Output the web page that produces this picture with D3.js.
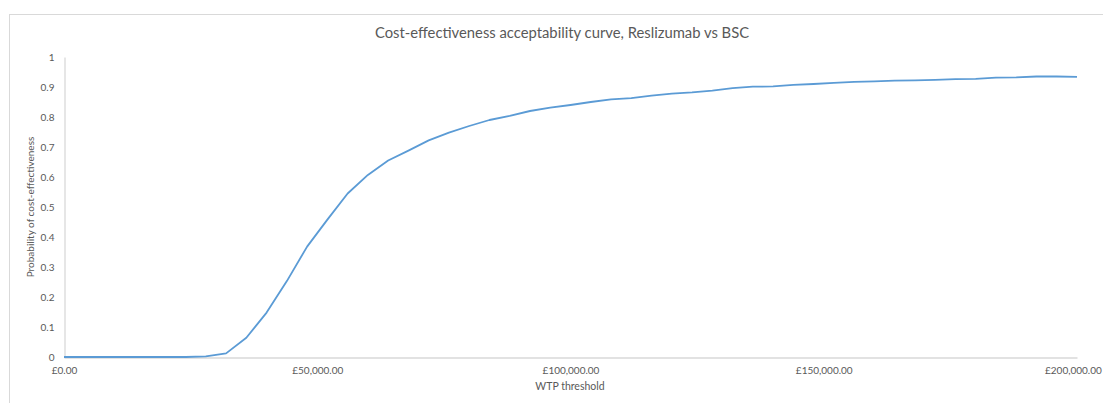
<!DOCTYPE html>
<html>
<head>
<meta charset="utf-8">
<script src="https://cdn.jsdelivr.net/npm/d3@7"></script>
<style>
  html, body { margin: 0; padding: 0; background: #fff; }
  svg { display: block; }
  text { font-family: Lato, "Open Sans", sans-serif; fill: #595959; }
</style>
</head>
<body>
<svg id="chart" width="1103" height="403"></svg>
<script>
// Willingness-to-pay thresholds (£) and probability Reslizumab is cost-effective vs BSC
const wtp = [
  0, 4000, 8000, 12000, 16000, 20000, 24000, 28000, 32000, 36000,
  40000, 44000, 48000, 52000, 56000, 60000, 64000, 68000, 72000, 76000,
  80000, 84000, 88000, 92000, 96000, 100000, 104000, 108000, 112000, 116000,
  120000, 124000, 128000, 132000, 136000, 140000, 144000, 148000, 152000, 156000,
  160000, 164000, 168000, 172000, 176000, 180000, 184000, 188000, 192000, 196000,
  200000
];
const probability = [
  0, 0, 0, 0, 0, 0, 0, 0.002, 0.012, 0.064,
  0.148, 0.253, 0.368, 0.458, 0.545, 0.607, 0.655, 0.688, 0.722, 0.748,
  0.77, 0.79, 0.804, 0.82, 0.831, 0.84, 0.85, 0.859, 0.863, 0.871,
  0.878, 0.882, 0.888, 0.896, 0.901, 0.902, 0.907, 0.91, 0.914, 0.917,
  0.919, 0.921, 0.922, 0.924, 0.926, 0.927, 0.931, 0.932, 0.935, 0.935,
  0.934
];
const xTicks = [0, 50000, 100000, 150000, 200000];
const yTicks = [0, 0.1, 0.2, 0.3, 0.4, 0.5, 0.6, 0.7, 0.8, 0.9, 1];

const titleText = "Cost-effectiveness acceptability curve, Reslizumab vs BSC";
const xTitle = "WTP threshold";
const yTitle = "Probability of cost-effectiveness";

const svg = d3.select("#chart");
const W = +svg.attr("width");

// chart area frame
svg.append("rect")
  .attr("x", 9.5).attr("y", 14.5)
  .attr("width", 1110).attr("height", 420)
  .attr("fill", "#fff")
  .attr("stroke", "#d9d9d9")
  .attr("stroke-width", 1);

const plot = { left: 64, right: 1077, top: 57, bottom: 357 };

const x = d3.scaleLinear().domain([0, 200000]).range([plot.left, plot.right]);
const y = d3.scaleLinear().domain([0, 1]).range([plot.bottom, plot.top]);

const fmtMoney = v => "£" + d3.format(",.2f")(v);
const fmtProb = v => v === 0 ? "0" : v === 1 ? "1" : d3.format(".1f")(v);

// x axis
const xAxis = svg.append("g")
  .attr("transform", `translate(0,${plot.bottom + 0.5})`)
  .call(d3.axisBottom(x).tickValues(xTicks).tickFormat(fmtMoney).tickSize(0).tickPadding(9));
xAxis.select(".domain").attr("stroke", "#d9d9d9").attr("stroke-width", 1.3);
xAxis.selectAll("text")
  .style("font-size", "10px")
  .attr("fill", "#595959");

// keep the last tick label inside the page edge
xAxis.selectAll(".tick text").each(function () {
  const box = this.getBBox();
  const tick = d3.select(this.parentNode);
  const tx = +tick.attr("transform").match(/translate\(([-\d.]+)/)[1];
  const overflow = tx + box.x + box.width - (W - 1);
  if (overflow > 0) d3.select(this).attr("dx", -overflow);
});

// y axis
const yAxis = svg.append("g")
  .attr("transform", `translate(${plot.left + 0.5},0)`)
  .call(d3.axisLeft(y).tickValues(yTicks).tickFormat(fmtProb).tickSize(0).tickPadding(10));
yAxis.select(".domain").attr("stroke", "#d9d9d9").attr("stroke-width", 1.3);
yAxis.selectAll("text")
  .style("font-size", "10px")
  .attr("fill", "#595959");

// acceptability curve
const pts = wtp.map((v, i) => [v, probability[i]]);
svg.append("path")
  .datum(pts)
  .attr("fill", "none")
  .attr("stroke", "#5b9bd5")
  .attr("stroke-width", 1.8)
  .attr("stroke-linejoin", "round")
  .attr("d", d3.line().x(d => x(d[0])).y(d => y(d[1])));

// titles
svg.append("text")
  .attr("x", 562).attr("y", 38)
  .attr("text-anchor", "middle")
  .style("font-size", "14.8px")
  .text(titleText);

svg.append("text")
  .attr("x", 570).attr("y", 390)
  .attr("text-anchor", "middle")
  .style("font-size", "10.5px")
  .text(xTitle);

svg.append("text")
  .attr("transform", "translate(34,207) rotate(-90)")
  .attr("text-anchor", "middle")
  .style("font-size", "10px")
  .text(yTitle);
</script>
</body>
</html>
